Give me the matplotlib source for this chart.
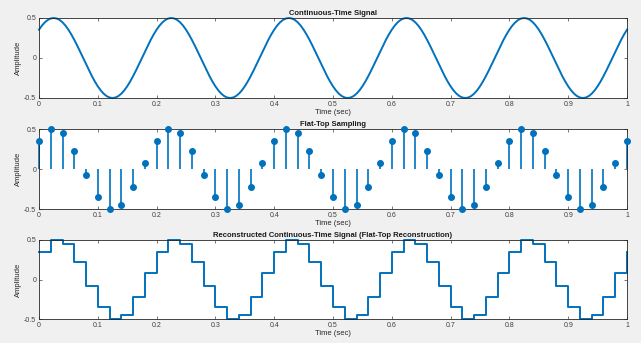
import numpy as np
import matplotlib
matplotlib.use("Agg")
import matplotlib.pyplot as plt

plt.rcParams['font.family'] = ['Liberation Sans', 'DejaVu Sans']

# one period (0.2 s) of the analog signal, read every 0.005 s
half_period = [0.354, 0.405, 0.446, 0.476, 0.494, 0.500, 0.494, 0.476, 0.446, 0.405,
               0.354, 0.294, 0.227, 0.155, 0.078, 0.000, -0.078, -0.155, -0.227, -0.294]
signal_period = half_period + [-v for v in half_period]
signal_end = 0.354
fine_step = 0.005

# samples taken every 0.02 s (one period holds 10 samples)
sample_period = [0.354, 0.494, 0.446, 0.227, -0.078, -0.354, -0.494, -0.446, -0.227, 0.078]
sample_end = 0.354
Ts = 0.02
n_periods = 5

titles = ['Continuous-Time Signal', 'Flat-Top Sampling',
          'Reconstructed Continuous-Time Signal (Flat-Top Reconstruction)']
xticks = [0, 0.1, 0.2, 0.3, 0.4, 0.5, 0.6, 0.7, 0.8, 0.9, 1]
xticklabels = ['0', '0.1', '0.2', '0.3', '0.4', '0.5', '0.6', '0.7', '0.8', '0.9', '1']
yticks = [-0.5, 0, 0.5]
yticklabels = ['-0.5', '0', '0.5']

x_fine = np.array(signal_period * n_periods + [signal_end])
t_fine = np.arange(len(x_fine)) * fine_step
x_n = np.array(sample_period * n_periods + [sample_end])
t_n = np.arange(len(x_n)) * Ts

blue = '#0072BD'
bg = '#f0f0f0'

fig = plt.figure(figsize=(6.41, 3.43), dpi=100, facecolor=bg)
W, H = 641, 343
boxes = [(18, 98), (129, 209), (240, 319)]
axes = []
for top, bottom in boxes:
    ax = fig.add_axes([39 / W, 1 - bottom / H, (627 - 39) / W, (bottom - top) / H])
    axes.append(ax)

axes[0].plot(t_fine, x_fine, color=blue, lw=1.4, clip_on=False)

ml, sl, bl = axes[1].stem(t_n, x_n, basefmt=' ')
plt.setp(sl, color=blue, lw=1.2, clip_on=False)
plt.setp(ml, color=blue, markersize=4, clip_on=False, zorder=3)

axes[2].step(t_n, x_n, where='post', color=blue, lw=1.4, clip_on=False)

for ax, title in zip(axes, titles):
    ax.set_xlim(0, 1)
    ax.set_ylim(-0.5, 0.5)
    ax.set_xticks(xticks)
    ax.set_xticklabels(xticklabels)
    ax.set_yticks(yticks)
    ax.set_yticklabels(yticklabels)
    ax.tick_params(direction='in', length=2.5, width=0.5, labelsize=5,
                   colors='#404040', top=True, right=True, pad=2)
    for s in ax.spines.values():
        s.set_color('#262626')
        s.set_linewidth(0.6)
    ax.set_title(title, fontsize=5.5, fontweight='bold', pad=2.5, color='#1a1a1a')
    ax.set_xlabel('Time (sec)', fontsize=5.5, labelpad=1, color='#262626')
    ax.set_ylabel('Amplitude', fontsize=5.5, labelpad=1.5, color='#262626')

fig.savefig('out.png', dpi=100, facecolor=bg)
